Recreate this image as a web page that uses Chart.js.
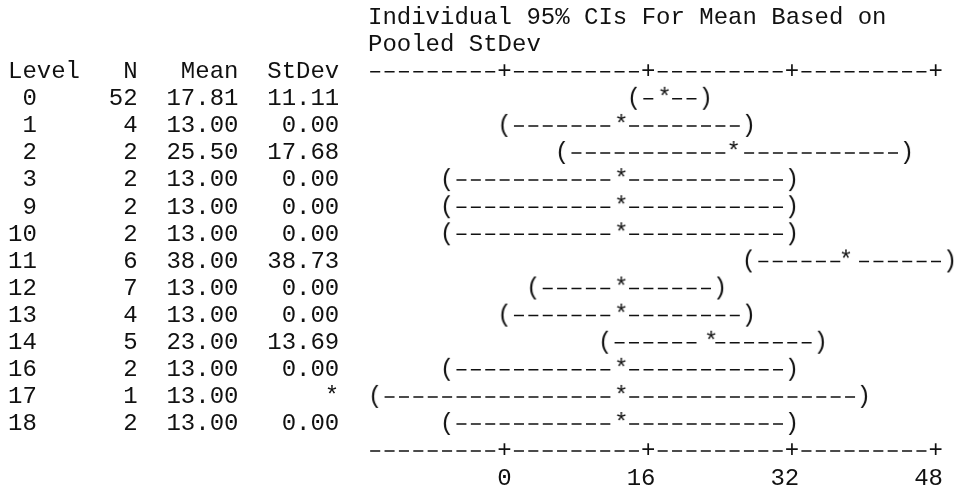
<!DOCTYPE html>
<html lang="en">
<head>
    <meta charset="UTF-8">
    <title>Individual 95% CIs For Mean</title>
    <script src="https://cdn.jsdelivr.net/npm/chart.js"></script>
    <style>
        body { margin: 0; background: #fff; }
        .wrap { width: 954px; height: 491px; }
    </style>
</head>
<body>
<div class="wrap">
    <canvas id="ciChart"></canvas>
</div>

<script>
    // one-way ANOVA summary
    const levels = ['0', '1', '2', '3', '9', '10', '11', '12', '13', '14', '16', '17', '18'];
    const counts = [52, 4, 2, 2, 2, 2, 6, 7, 4, 5, 2, 1, 2];
    const means = [17.81, 13.00, 25.50, 13.00, 13.00, 13.00, 38.00, 13.00, 13.00, 23.00, 13.00, 13.00, 13.00];
    const stdevs = ['11.11', '0.00', '17.68', '0.00', '0.00', '0.00', '38.73', '0.00', '0.00', '13.69', '0.00', '*', '0.00'];
    const ciLower = [14.4, 0.0, 6.4, -6.4, -6.4, -6.4, 27.2, 3.2, 0.0, 11.2, -6.4, -14.4, -6.4];
    const ciUpper = [22.4, 27.2, 44.8, 32.0, 32.0, 32.0, 49.6, 24.0, 27.2, 35.2, 32.0, 40.0, 32.0];
    const tickValues = [0, 16, 32, 48];
    const titleLines = ['Individual 95% CIs For Mean Based on', 'Pooled StDev'];

    const MONO = "'Liberation Mono', 'Courier New', monospace";
    const INK = '#111';
    const CHAR_UNITS = 1.6; // one character column of the printout on the x scale

    const header = 'Level' + 'N'.padStart(4) + 'Mean'.padStart(7) + 'StDev'.padStart(7);
    const rowLabels = levels.map((lv, i) =>
        lv.padStart(2) + String(counts[i]).padStart(7) + means[i].toFixed(2).padStart(7) + stdevs[i].padStart(7));

    // little canvases used as point styles so the marks look like the printout.
    // shift moves the white backing onto the character cell the mark falls in.
    function glyph(ch, shift) {
        const half = 7 + Math.ceil(Math.abs(shift || 0));
        const c = document.createElement('canvas');
        c.width = half * 2;
        c.height = 28;
        const g = c.getContext('2d');
        g.fillStyle = '#fff';
        g.fillRect(half + (shift || 0) - 7, 4, 14, 20);
        g.fillStyle = INK;
        g.font = '24px ' + MONO;
        g.textAlign = 'center';
        g.textBaseline = 'middle';
        g.fillText(ch, half, 14);
        return c;
    }

    function starStyle(context) {
        const x = context.chart.scales.x;
        const v = means[context.dataIndex];
        if (!x || v === undefined) {
            return glyph('*', 0);
        }
        const cellValue = Math.round(v / CHAR_UNITS) * CHAR_UNITS;
        return glyph('*', x.getPixelForValue(cellValue) - x.getPixelForValue(v));
    }

    // dashed "---+---" axis lines above and below the intervals
    const asciiAxis = {
        id: 'asciiAxis',
        afterDatasetsDraw(chart) {
            const {ctx, chartArea} = chart;
            const x = chart.scales.x;
            const cell = x.getPixelForValue(CHAR_UNITS) - x.getPixelForValue(0);
            const end = x.getPixelForValue(tickValues[tickValues.length - 1]);
            ctx.save();
            [chartArea.top, chartArea.bottom].forEach(y => {
                ctx.strokeStyle = INK;
                ctx.lineWidth = 1.5;
                ctx.setLineDash([cell * 0.7, cell * 0.3]);
                ctx.lineDashOffset = cell * 0.85;
                ctx.beginPath();
                ctx.moveTo(chartArea.left, y);
                ctx.lineTo(end, y);
                ctx.stroke();
                ctx.setLineDash([]);
                ctx.font = '24px ' + MONO;
                ctx.textAlign = 'center';
                ctx.textBaseline = 'middle';
                tickValues.forEach(v => {
                    const px = x.getPixelForValue(v);
                    ctx.fillStyle = '#fff';
                    ctx.fillRect(px - 6.5, y - 8, 13, 16);
                    ctx.fillStyle = INK;
                    ctx.fillText('+', px, y);
                });
            });
            ctx.restore();
        }
    };

    const datasets = [];
    levels.forEach((lv, i) => {
        datasets.push({
            data: [{x: ciLower[i], y: i}, {x: ciUpper[i], y: i}],
            showLine: true,
            borderColor: INK,
            borderWidth: 1.5,
            borderDash: [10, 4.39],
            borderDashOffset: 5,
            pointRadius: 0,
            clip: false,
            order: 2
        });
    });
    datasets.push({
        data: ciLower.map((v, i) => ({x: v, y: i})),
        pointStyle: glyph('(', 0),
        pointRadius: 10,
        clip: false,
        order: 1
    });
    datasets.push({
        data: ciUpper.map((v, i) => ({x: v, y: i})),
        pointStyle: glyph(')', 0),
        pointRadius: 10,
        clip: false,
        order: 1
    });
    datasets.push({
        data: means.map((v, i) => ({x: v, y: i})),
        pointStyle: starStyle,
        pointRadius: 10,
        clip: false,
        order: 1
    });

    Chart.defaults.font.family = MONO;
    Chart.defaults.font.size = 24;
    Chart.defaults.color = INK;

    new Chart(document.getElementById('ciChart'), {
        type: 'scatter',
        data: {datasets: datasets},
        plugins: [asciiAxis],
        options: {
            responsive: true,
            maintainAspectRatio: false,
            animation: false,
            events: [],
            layout: {
                padding: {top: 3.95, left: 8, right: 10.4, bottom: 0.8}
            },
            plugins: {
                legend: {display: false},
                tooltip: {enabled: false},
                title: {
                    display: true,
                    text: titleLines,
                    position: 'top',
                    align: 'start',
                    fullSize: false,
                    color: INK,
                    font: {size: 24, weight: 'normal', lineHeight: '27.1px'},
                    padding: {top: 0, bottom: 13.55}
                }
            },
            scales: {
                x: {
                    type: 'linear',
                    min: -15.2,
                    max: 48.8,
                    afterBuildTicks: scale => {
                        scale.ticks = tickValues.map(v => ({value: v}));
                    },
                    afterFit: scale => {
                        scale.height = 39.1;
                    },
                    grid: {display: false, drawTicks: false},
                    border: {display: false},
                    ticks: {
                        autoSkip: false,
                        maxRotation: 0,
                        align: 'end',
                        labelOffset: 7.2,
                        padding: 15.1,
                        font: {size: 24, lineHeight: 1}
                    }
                },
                y: {
                    type: 'linear',
                    reverse: true,
                    min: -1,
                    max: 13,
                    afterFit: scale => {
                        scale.width = 360;
                    },
                    grid: {display: false, drawTicks: false},
                    border: {display: false},
                    ticks: {
                        stepSize: 1,
                        autoSkip: false,
                        crossAlign: 'far',
                        padding: 0,
                        font: {size: 24, lineHeight: 1},
                        callback: function(value) {
                            if (value === -1) {
                                return header;
                            }
                            return rowLabels[value] || '';
                        }
                    }
                }
            }
        }
    });
</script>
</body>
</html>
